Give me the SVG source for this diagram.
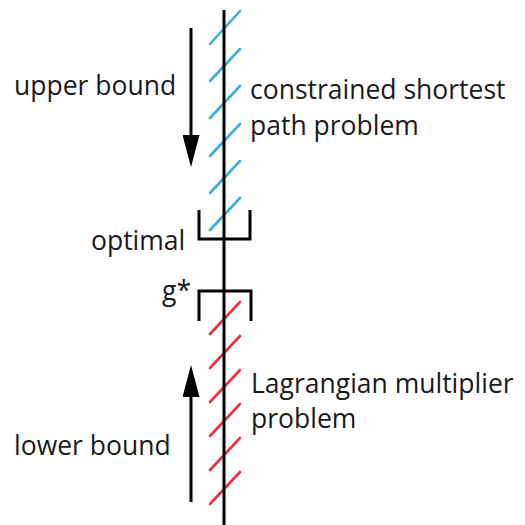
<svg xmlns="http://www.w3.org/2000/svg" width="525" height="525" viewBox="0 0 525 525">
  <style>
    text { font-family: "Open Sans", "Liberation Sans", sans-serif; font-size: 26.5px; fill: #1a1a1a; }
    .hatch-blue { stroke: #3ab0dc; stroke-width: 2.6; stroke-linecap: round; }
    .hatch-red { stroke: #e8343f; stroke-width: 2.6; stroke-linecap: round; }
    .ink { stroke: #000; stroke-width: 3; fill: none; }
  </style>
  <defs>
    <!-- long narrow arrowhead; tip sits 7px past the shaft end -->
    <marker id="head" viewBox="0 0 32 17" refX="25" refY="8.5" markerUnits="userSpaceOnUse" markerWidth="32" markerHeight="17" orient="auto">
      <path d="M0,0 L32,8.5 L0,17 Z" fill="#000"/>
    </marker>
  </defs>
  <rect width="525" height="525" fill="#fff"/>

  <!-- feasible side: constrained shortest path values -->
  <g id="upper-hatches" class="hatch-blue">
    <line x1="210" y1="44" x2="240" y2="11"/>
    <line x1="210" y1="81" x2="240" y2="49"/>
    <line x1="210" y1="118" x2="240" y2="86"/>
    <line x1="210" y1="156" x2="240" y2="124"/>
    <line x1="210" y1="193" x2="240" y2="161"/>
    <line x1="210" y1="230" x2="240" y2="198"/>
  </g>

  <!-- dual side: Lagrangian multiplier values -->
  <g id="lower-hatches" class="hatch-red">
    <line x1="210" y1="334" x2="240" y2="302"/>
    <line x1="210" y1="368" x2="240" y2="336"/>
    <line x1="210" y1="402" x2="240" y2="370"/>
    <line x1="210" y1="436" x2="240" y2="404"/>
    <line x1="210" y1="470" x2="240" y2="438"/>
    <line x1="210" y1="504" x2="240" y2="472"/>
  </g>

  <g id="connectors">
    <line id="axis" class="ink" x1="224" y1="10" x2="224" y2="525"/>
    <path id="optimal-bracket" class="ink" d="M199,210 V239 H250 V210"/>
    <path id="gstar-bracket" class="ink" d="M199,321 V291 H251 V321"/>
    <line id="upper-arrow" class="ink" x1="191" y1="28" x2="191" y2="160" marker-end="url(#head)"/>
    <line id="lower-arrow" class="ink" x1="191" y1="502" x2="191" y2="372" marker-end="url(#head)"/>
  </g>

  <g id="upper-bound"><text x="14" y="95">upper bound</text></g>
  <g id="csp"><text x="250" y="99">constrained shortest</text><text x="250" y="135">path problem</text></g>
  <g id="optimal"><text x="91" y="250">optimal</text></g>
  <g id="gstar"><text x="162" y="300">g*</text></g>
  <g id="lagrangian"><text x="251" y="393">Lagrangian multiplier</text><text x="251" y="428">problem</text></g>
  <g id="lower-bound"><text x="14" y="455">lower bound</text></g>
</svg>
